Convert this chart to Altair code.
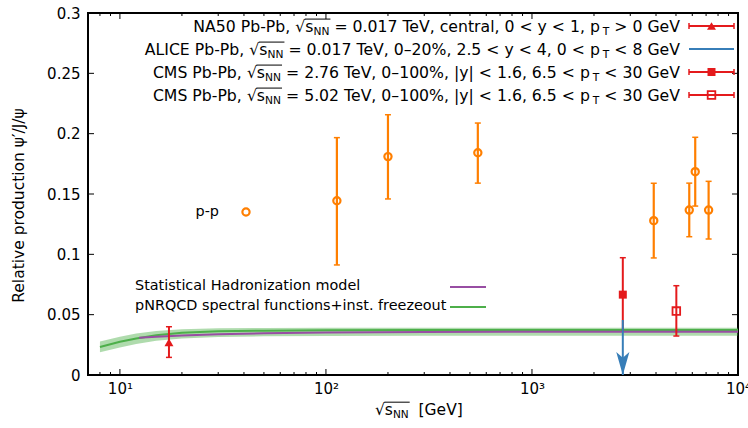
import altair as alt
import pandas as pd

# ---------------- measurements ----------------
# p-p reference points (open orange circles)
pp_energy = [113, 200, 546, 3900, 5800, 6200, 7200]
pp_ratio = [0.1444, 0.1810, 0.1842, 0.1279, 0.1367, 0.1685, 0.1367]
pp_low = [0.0912, 0.1459, 0.1590, 0.0970, 0.1146, 0.1400, 0.1127]
pp_high = [0.1967, 0.2157, 0.2088, 0.1589, 0.1590, 0.1970, 0.1605]

# NA50 Pb-Pb
na50_energy = [17.3]
na50_ratio = [0.027]
na50_low = [0.0146]
na50_high = [0.0400]

# CMS Pb-Pb 2.76 TeV
cms276_energy = [2760]
cms276_ratio = [0.0666]
cms276_low = [0.0360]
cms276_high = [0.0972]

# CMS Pb-Pb 5.02 TeV
cms502_energy = [5020]
cms502_ratio = [0.0530]
cms502_low = [0.0323]
cms502_high = [0.0740]

# ALICE Pb-Pb upper limit (arrow)
alice_energy = [2760]
alice_limit = [0.0456]

# ---------------- model curves ----------------
nrqcd_energy = [8, 10, 12, 15, 20, 30, 50, 100, 300, 1000, 3000, 10000]
nrqcd_mid = [0.0232, 0.0275, 0.0302, 0.0330, 0.0350, 0.0362, 0.0367, 0.0370, 0.0372, 0.0373, 0.0373, 0.0373]
nrqcd_low = [0.0188, 0.0228, 0.0256, 0.0283, 0.0302, 0.0315, 0.0321, 0.0324, 0.0326, 0.0326, 0.0326, 0.0326]
nrqcd_high = [0.0278, 0.0318, 0.0343, 0.0365, 0.0380, 0.0387, 0.0390, 0.0391, 0.0392, 0.0392, 0.0392, 0.0392]

shm_energy = [12.4, 15, 20, 30, 50, 100, 300, 1000, 3000, 10000]
shm_ratio = [0.0309, 0.0317, 0.0328, 0.0338, 0.0346, 0.0353, 0.0357, 0.0358, 0.0359, 0.0359]

# ---------------- labels ----------------
# rich text: (text, style) with style "n" normal, "sub" subscript, "ov"/"subov" under the root bar
ROOT_S = [("√", "n"), ("s", "ov"), ("NN", "subov")]
legend_rows = [
    [("NA50 Pb-Pb, ", "n")] + ROOT_S + [(" = 0.017 TeV, central, 0 < y < 1, p", "n"), ("T", "sub"), (" > 0 GeV", "n")],
    [("ALICE Pb-Pb, ", "n")] + ROOT_S + [(" = 0.017 TeV, 0–20%, 2.5 < y < 4, 0 < p", "n"), ("T", "sub"), (" < 8 GeV", "n")],
    [("CMS Pb-Pb, ", "n")] + ROOT_S + [(" = 2.76 TeV, 0–100%, |y| < 1.6, 6.5 < p", "n"), ("T", "sub"), (" < 30 GeV", "n")],
    [("CMS Pb-Pb, ", "n")] + ROOT_S + [(" = 5.02 TeV, 0–100%, |y| < 1.6, 6.5 < p", "n"), ("T", "sub"), (" < 30 GeV", "n")],
]
model_labels = ["Statistical Hadronization model", "pNRQCD spectral functions+inst. freezeout"]
pp_label = "p-p"
x_title = ROOT_S + [("  [GeV]", "n")]
y_title = "Relative production  ψ′/J/ψ"

x_major = [10, 100, 1000, 10000]
x_minor = [m * d for d in (1, 10, 100, 1000) for m in range(2, 10) if 7 < m * d < 10000]
y_major = [0, 0.05, 0.1, 0.15, 0.2, 0.25, 0.3]

# ---------------- styling ----------------
RED = "#e41a1c"
ORANGE = "#ff7f00"
BLUE = "#377eb8"
GREEN = "#4daf4a"
PURPLE = "#984ea3"
FONT = "DejaVu Sans"
W, H = 650, 362

# DejaVu Sans advance widths (em) used to lay out rich text pieces
ADV = {' ': .318, ',': .318, '.': .318, '-': .361, '/': .337, '|': .337, '%': .950,
       '+': .838, '<': .838, '=': .838, '>': .838, '–': .5, '√': .636, '[': .390, ']': .390,
       'A': .684, 'C': .698, 'E': .632, 'G': .775, 'I': .295, 'L': .557, 'M': .863,
       'N': .748, 'P': .603, 'S': .635, 'T': .611, 'V': .684,
       'a': .613, 'b': .635, 'c': .550, 'e': .615, 'l': .278, 'n': .634, 'p': .635,
       'r': .411, 's': .521, 't': .392, 'y': .592}
for ch in "0123456789":
    ADV[ch] = .636


def text_width(s, fs):
    return sum(ADV.get(c, .6) for c in s) * fs


xscale = alt.Scale(type="log", domain=[7, 10000])
yscale = alt.Scale(domain=[0, 0.3])

sup = {10: "¹", 100: "²", 1000: "³", 10000: "⁴"}
label_expr = "'10' + (" + " : ".join(
    f"datum.value == {k} ? '{v}'" for k, v in sup.items()) + " : '')"

x_axis = alt.Axis(values=x_major, labelExpr=label_expr, title="", grid=False,
                  ticks=False, domain=False, labelFlush=False, labelOverlap=False,
                  labelFont=FONT, labelFontSize=15, labelPadding=6, labelColor="black")
y_axis = alt.Axis(values=y_major, format=".2~f", title=y_title, grid=False,
                  ticks=False, domain=False, labelFlush=False, labelOverlap=False,
                  labelFont=FONT, labelFontSize=15, labelPadding=8, labelColor="black",
                  titleFont=FONT, titleFontSize=15.5, titleFontWeight="normal",
                  titleColor="black", titlePadding=20, titleY=192)


def X(field="x"):
    return alt.X(f"{field}:Q", scale=xscale, axis=x_axis)


def Y(field="y"):
    return alt.Y(f"{field}:Q", scale=yscale, axis=y_axis)


def frame(xs, ys, lo=None, hi=None):
    d = {"x": xs, "y": ys}
    if lo is not None:
        d["lo"] = lo
        d["hi"] = hi
    return pd.DataFrame(d)


layers = []

# model band and curves
band = pd.DataFrame({"x": nrqcd_energy, "lo": nrqcd_low, "hi": nrqcd_high})
layers.append(alt.Chart(band).mark_area(color=GREEN, opacity=0.45).encode(
    x=X(), y=Y("lo"), y2="hi:Q"))
layers.append(alt.Chart(frame(nrqcd_energy, nrqcd_mid)).mark_line(
    color=GREEN, strokeWidth=2).encode(x=X(), y=Y()))
layers.append(alt.Chart(frame(shm_energy, shm_ratio)).mark_line(
    color=PURPLE, strokeWidth=2).encode(x=X(), y=Y()))


def error_bars(df, color, width=2, caps=("lo", "hi")):
    out = [alt.Chart(df).mark_rule(color=color, strokeWidth=width).encode(
        x=X(), y=Y("lo"), y2="hi:Q")]
    for c in caps:
        out.append(alt.Chart(df).mark_rule(color=color, strokeWidth=1.5,
                                           xOffset=-3, x2Offset=3).encode(
            x=X(), x2="x:Q", y=Y(c)))
    return out


pp = frame(pp_energy, pp_ratio, pp_low, pp_high)
layers += error_bars(pp, ORANGE, 2.2)
layers.append(alt.Chart(pp).mark_point(shape="circle", filled=False, size=52,
                                       strokeWidth=2.2, color=ORANGE, opacity=1).encode(
    x=X(), y=Y()))

na50 = frame(na50_energy, na50_ratio, na50_low, na50_high)
layers += error_bars(na50, RED)
layers.append(alt.Chart(na50).mark_point(shape="triangle-up", filled=True, size=80,
                                         color=RED, opacity=1).encode(x=X(), y=Y()))

cms276 = frame(cms276_energy, cms276_ratio, cms276_low, cms276_high)
layers += error_bars(cms276, RED, caps=("hi",))
layers.append(alt.Chart(cms276).mark_point(shape="square", filled=True, size=64,
                                           color=RED, opacity=1).encode(x=X(), y=Y()))

cms502 = frame(cms502_energy, cms502_ratio, cms502_low, cms502_high)
layers += error_bars(cms502, RED)
layers.append(alt.Chart(cms502).mark_point(shape="square", filled=False, size=58,
                                           strokeWidth=1.8, color=RED, opacity=1).encode(
    x=X(), y=Y()))

# ALICE upper limit: shaft plus arrow head resting on the axis
ARROW = "M0,1 L-0.57,-1 L0,-0.5 L0.57,-1 Z"
alice = pd.DataFrame({"x": alice_energy, "y": alice_limit, "base": [0.0] * len(alice_energy)})
layers.append(alt.Chart(alice).mark_rule(color=BLUE, strokeWidth=2).encode(
    x=X(), y=Y(), y2="base:Q"))
layers.append(alt.Chart(alice).mark_point(shape=ARROW, filled=True, size=530, color=BLUE,
                                          opacity=1, yOffset=-11.5).encode(
    x=X(), y=Y("base")))

# inward ticks on all four sides
xt_major = pd.DataFrame({"x": x_major})
xt_minor = pd.DataFrame({"x": x_minor})
yt = pd.DataFrame({"y": y_major})
for df, ln in ((xt_major, 6), (xt_minor, 3)):
    layers.append(alt.Chart(df).mark_rule(color="black", strokeWidth=1).encode(
        x=X(), y=alt.value(H), y2=alt.value(H - ln)))
    layers.append(alt.Chart(df).mark_rule(color="black", strokeWidth=1).encode(
        x=X(), y=alt.value(0), y2=alt.value(ln)))
layers.append(alt.Chart(yt).mark_rule(color="black", strokeWidth=1).encode(
    y=Y(), x=alt.value(0), x2=alt.value(6)))
layers.append(alt.Chart(yt).mark_rule(color="black", strokeWidth=1).encode(
    y=Y(), x=alt.value(W), x2=alt.value(W - 6)))

one = pd.DataFrame({"k": [0]})


def text(label, x, y, align, fs=14.4, baseline="middle"):
    return alt.Chart(one).mark_text(text=label, font=FONT, fontSize=fs, color="black",
                                    align=align, baseline=baseline).encode(
        x=alt.value(x), y=alt.value(y))


def seg(x1, x2, y, color, width=2):
    return alt.Chart(one).mark_rule(color=color, strokeWidth=width).encode(
        x=alt.value(x1), x2=alt.value(x2), y=alt.value(y))


def vseg(x, y1, y2, color, width=1.5):
    return alt.Chart(one).mark_rule(color=color, strokeWidth=width).encode(
        x=alt.value(x), y=alt.value(y1), y2=alt.value(y2))


def key_point(x, y, color, **kw):
    return alt.Chart(one).mark_point(color=color, opacity=1, **kw).encode(
        x=alt.value(x), y=alt.value(y))


def rich(pieces, y_mid, fs, left=None, right=None):
    """Lay out text pieces with subscripts and a root bar, left- or right-anchored."""
    sub_fs = fs * 0.68
    sizes = [sub_fs if st.startswith("sub") else fs for _, st in pieces]
    widths = [text_width(t, s) for (t, _), s in zip(pieces, sizes)]
    x = left if left is not None else right - sum(widths)
    base = y_mid + 0.36 * fs
    out = []
    bar = []
    for (t, st), s, w in zip(pieces, sizes, widths):
        lead = text_width(t[: len(t) - len(t.lstrip())], s)
        shown = t.strip()
        yb = base + (0.22 * fs if st.startswith("sub") else 0)
        if shown:
            out.append(text(shown, x + lead, yb, "left", fs=s, baseline="alphabetic"))
        if st.endswith("ov"):
            bar.append((x, x + w))
        x += w
    if bar:
        out.append(seg(bar[0][0] - 0.5, bar[-1][1] + 1, base - 0.80 * fs, "black", 1))
    return out


# data key (top right)
key_colors = [RED, BLUE, RED, RED]
key_marks = [dict(shape="triangle-up", filled=True, size=80),
             None,
             dict(shape="square", filled=True, size=64),
             dict(shape="square", filled=False, size=58, strokeWidth=1.8)]
kx1, kx2 = 601, 646
for i, (row, col, mk) in enumerate(zip(legend_rows, key_colors, key_marks)):
    ky = 13 + 23 * i
    layers += rich(row, ky, 15.7, right=592)
    layers.append(seg(kx1, kx2, ky, col))
    if mk is not None:
        layers.append(vseg(kx1, ky - 3, ky + 3, col))
        layers.append(vseg(kx2, ky - 3, ky + 3, col))
        layers.append(key_point((kx1 + kx2) / 2, ky, col, **mk))

# model key
for i, (lab, col) in enumerate(zip(model_labels, [PURPLE, GREEN])):
    my = 273 + 20 * i
    layers.append(text(lab, 47, my, "left"))
    layers.append(seg(362, 398, my + 1, col))

# p-p key
layers.append(text(pp_label, 131, 199, "right"))
layers.append(key_point(158, 199, ORANGE, shape="circle", filled=False, size=52,
                        strokeWidth=2.2))

# x-axis title
layers += rich(x_title, 396, 15.5, left=287)

chart = alt.layer(*layers).properties(
    width=W, height=H,
    padding={"left": 88, "top": 13, "right": 10, "bottom": 53},
    autosize=alt.AutoSizeParams(type="none"),
    background="white",
).configure_view(stroke="black", strokeWidth=2)

chart.save("out.html", embed_options={"renderer": "svg", "actions": False})
